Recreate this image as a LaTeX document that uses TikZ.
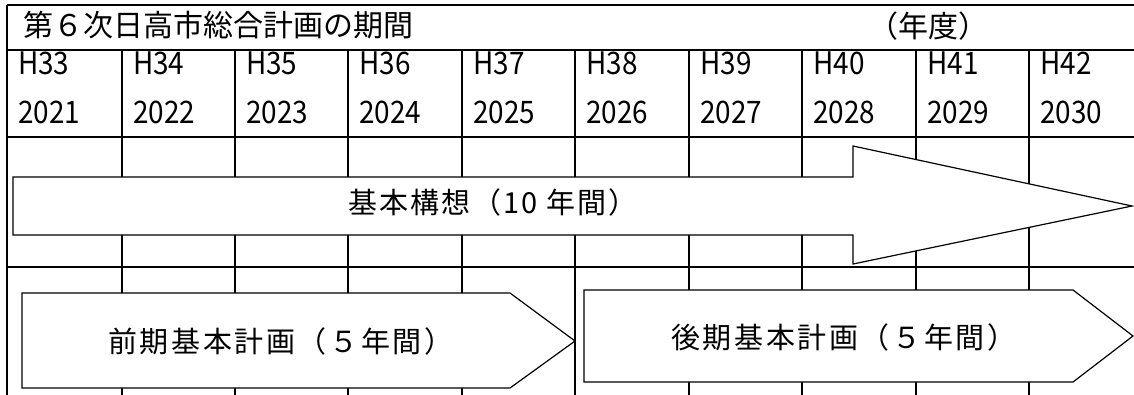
\documentclass[tikz,border=0pt]{standalone}
\usepackage{fontspec}
\setmainfont{Noto Sans CJK JP}
\newfontfamily\widejp[LetterSpace=9]{Noto Sans CJK JP}
\newfontfamily\midjp[LetterSpace=7]{Noto Sans CJK JP}
\newfontfamily\narrowjp[FakeStretch=0.9]{Noto Sans CJK JP}
\begin{document}
\begin{tikzpicture}[x=1pt,y=-1pt,
  gridline/.style={line width=1.5pt},
  arrowshape/.style={draw, fill=white, line width=1.2pt, line join=miter},
  yeartext/.style={anchor=base west, inner sep=0pt, font=\fontsize{31}{31}\narrowjp},
  titletext/.style={inner sep=0pt, font=\fontsize{30}{30}\selectfont},
  bigtext/.style={anchor=west, inner sep=0pt, font=\fontsize{29}{29}\midjp},
  plantext/.style={anchor=west, inner sep=0pt, font=\fontsize{29}{29}\widejp}]
\useasboundingbox (0,0) rectangle (1134,394);
\fill[white] (0,0) rectangle (1134,394);
\clip (0,0) rectangle (1134,394);
% grid
\foreach \y in {5,50,137,267} \draw[gridline] (7,\y) -- (1145,\y);
\draw[gridline] (7,5) -- (7,400);
\foreach \x in {122,235,348,462,575,689,802,916,1029} \draw[gridline] (\x,50) -- (\x,400);
% title row
\node[titletext, anchor=west] (title) at (23,25.5) {第６次日高市総合計画の期間};
\node[titletext] (unit) at (928,26.5) {（年度）};
% year header
\foreach \x/\h/\yr [count=\i] in {7/H33/2021,122/H34/2022,235/H35/2023,348/H36/2024,462/H37/2025,575/H38/2026,689/H39/2027,802/H40/2028,916/H41/2029,1029/H42/2030}{
  \node[yeartext] (h\i) at (\x+11,74) {\h};
  \node[yeartext] (y\i) at (\x+11,123) {\yr};
}
% arrows
\draw[arrowshape] (13,177) -- (853,177) -- (853,146) -- (1132,206) -- (853,264) -- (853,235) -- (13,235) -- cycle;
\node[bigtext] (kihon) at (348,202) {基本構想（10 年間）};
\draw[arrowshape] (22,293) -- (510,293) -- (575,341) -- (510,388) -- (22,388) -- cycle;
\node[plantext] (zenki) at (108,341) {前期基本計画（５年間）};
\draw[arrowshape] (584,290) -- (1073,290) -- (1133,336) -- (1073,382) -- (584,382) -- cycle;
\node[plantext] (koki) at (671,337) {後期基本計画（５年間）};
\end{tikzpicture}
\end{document}
